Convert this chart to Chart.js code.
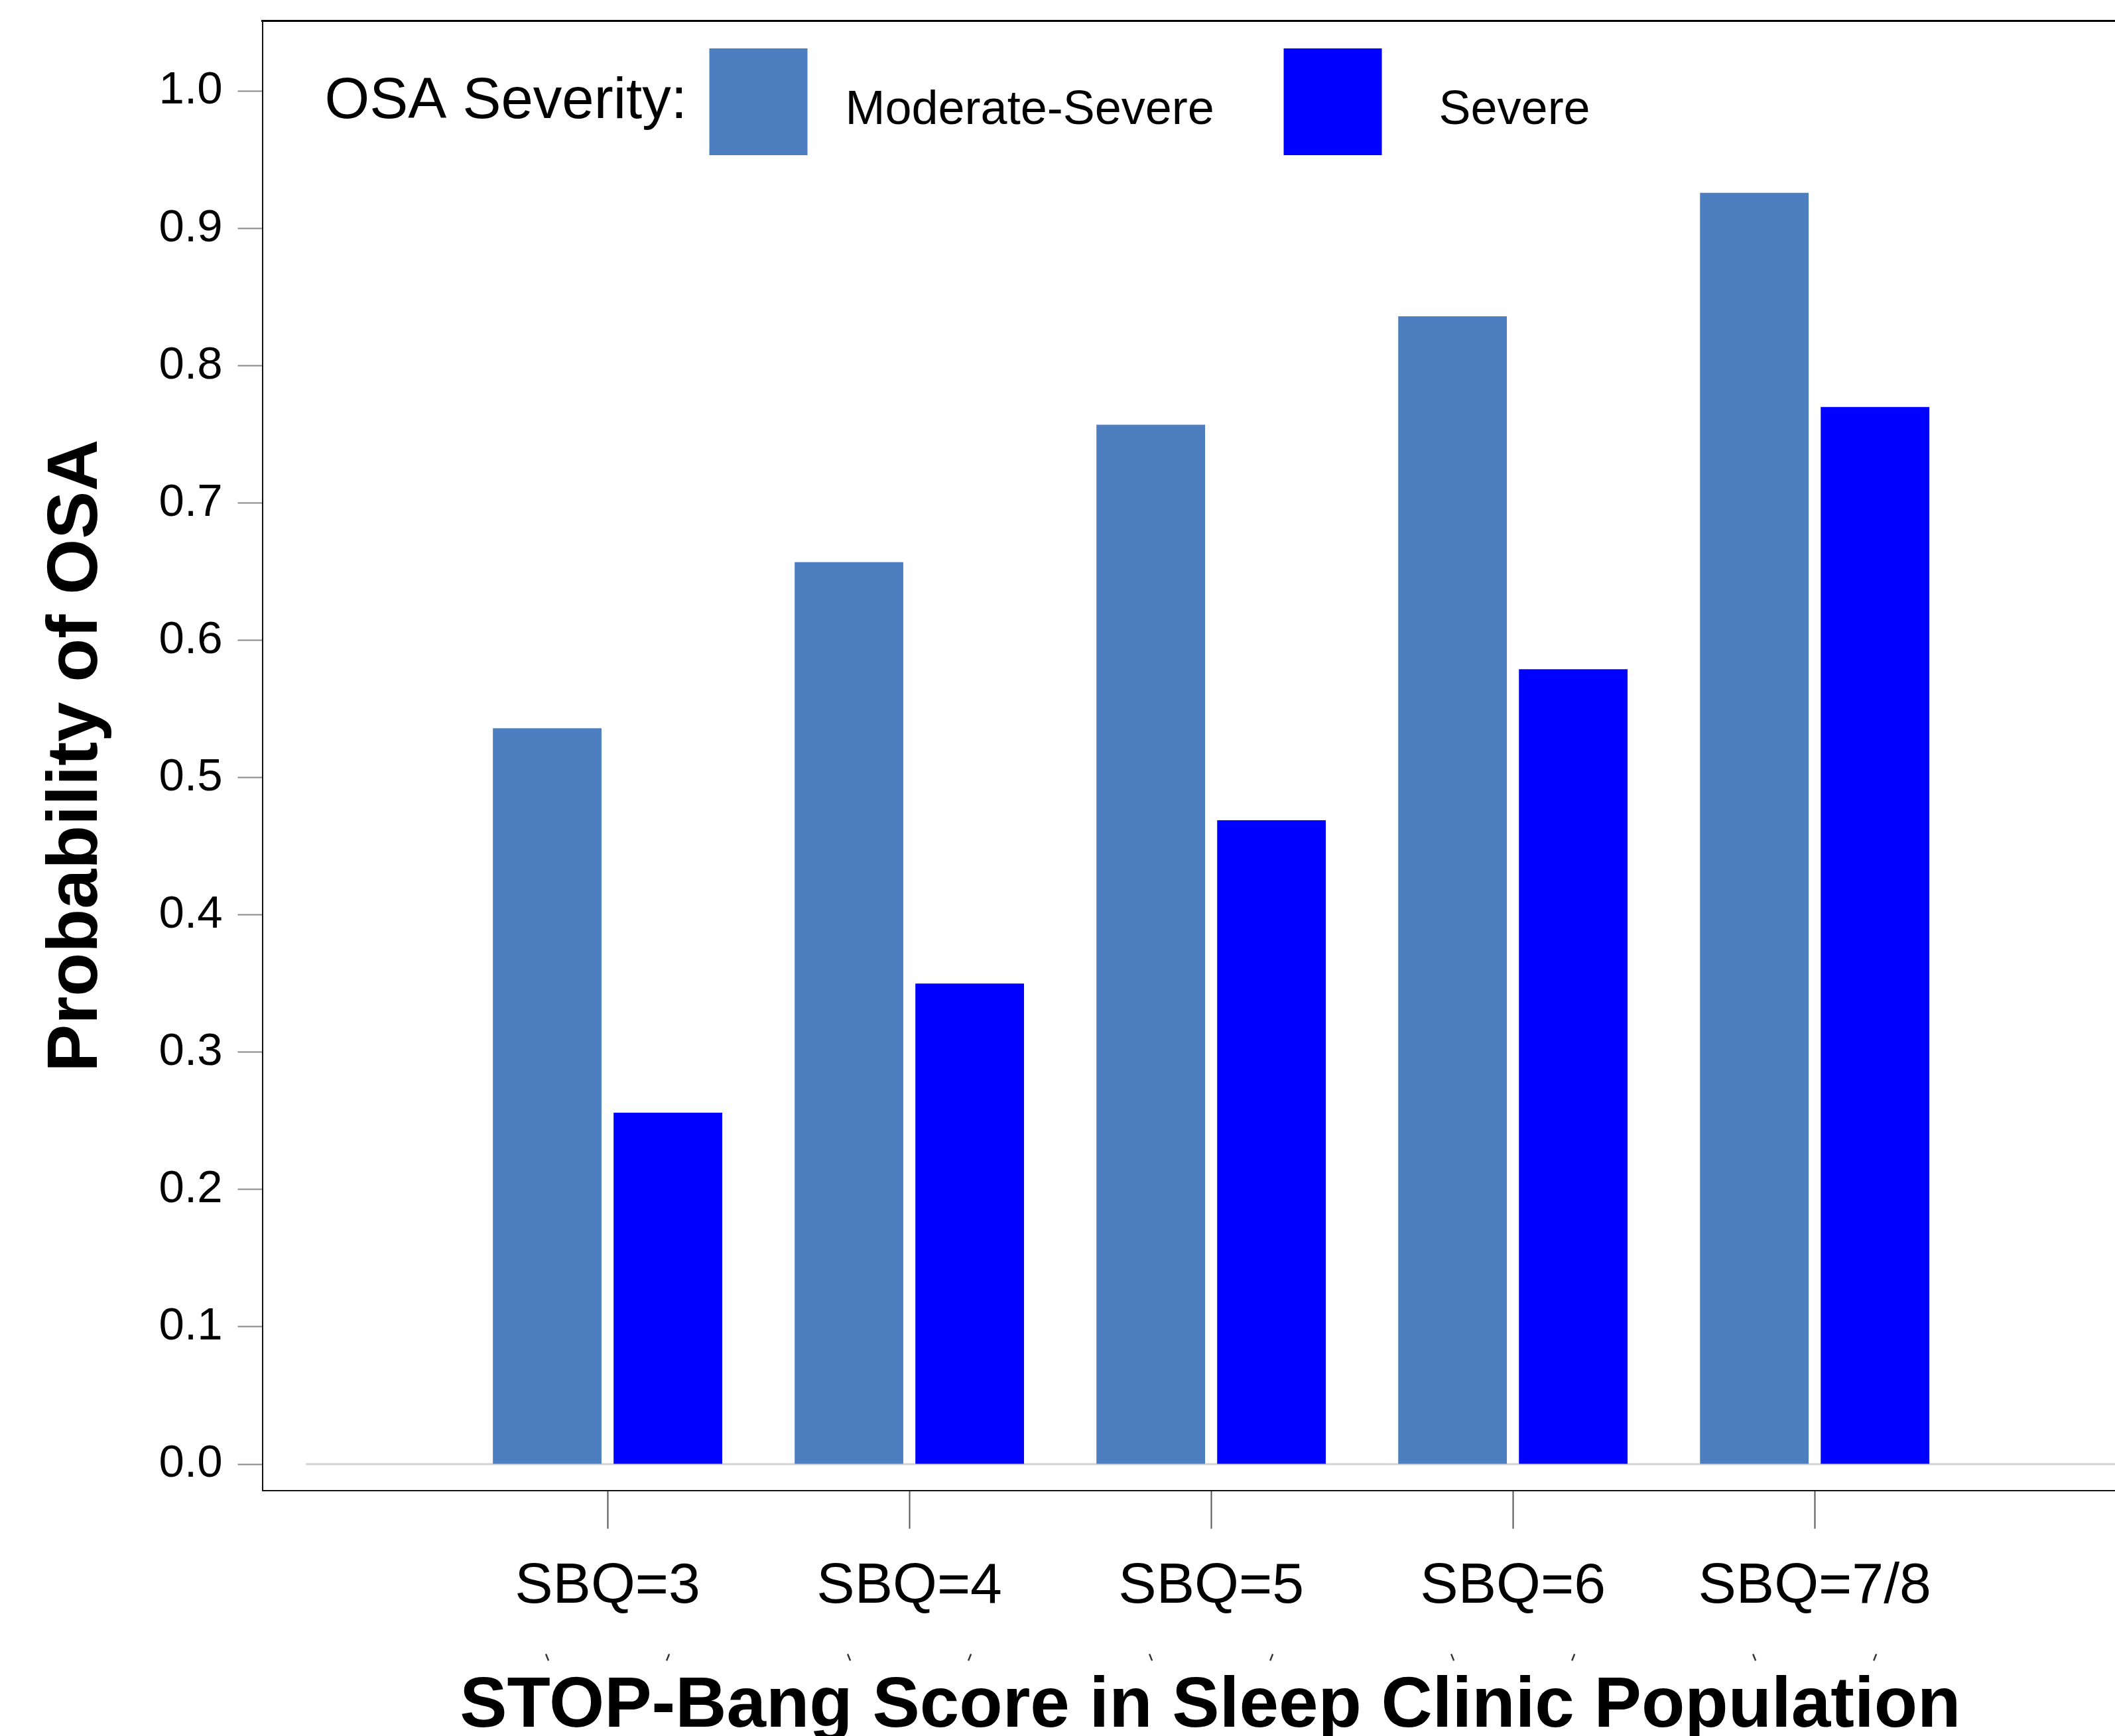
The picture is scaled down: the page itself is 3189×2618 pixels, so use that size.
<!DOCTYPE html>
<html>
<head>
<meta charset="utf-8">
<script src="https://cdn.jsdelivr.net/npm/chart.js@4.4.1/dist/chart.umd.min.js"></script>
<style>
  html, body { margin: 0; padding: 0; background: #fff; overflow: hidden; }
  #wrap { position: relative; width: 3254px; height: 2700px; }
</style>
</head>
<body>
<div id="wrap"><canvas id="osaChart"></canvas></div>
<script>
const categories = ["SBQ=3", "SBQ=4", "SBQ=5", "SBQ=6", "SBQ=7/8"];
const moderateSevere = [0.536, 0.657, 0.757, 0.836, 0.926];
const severe = [0.256, 0.350, 0.469, 0.579, 0.770];
const seriesLabels = ["Moderate-Severe", "Severe"];
const seriesColors = ["#4d7ebf", "#0000ff"];
const yTickValues = [0.0, 0.1, 0.2, 0.3, 0.4, 0.5, 0.6, 0.7, 0.8, 0.9, 1.0];
const legendTitle = "OSA Severity:";

const FONT = "'Liberation Sans', Arial, Helvetica, sans-serif";

// numeric x axis so the frame runs past the first and last group like the original
const X_MIN = -1.144, X_MAX = 5.138;
const Y_MIN = -0.0195, Y_MAX = 1.0514;

function toPoints(values) {
  return values.map((v, i) => ({ x: i, y: v }));
}

// light baseline at y = 0, starting one slot left of the first group
const zeroLine = {
  id: "zeroLine",
  beforeDatasetsDraw(chart) {
    const { ctx, chartArea } = chart;
    const x = chart.scales.x, y = chart.scales.y;
    const py = y.getPixelForValue(0);
    ctx.save();
    ctx.strokeStyle = "#d4d4d4";
    ctx.lineWidth = 3;
    ctx.beginPath();
    ctx.moveTo(x.getPixelForValue(-1), py);
    ctx.lineTo(chartArea.right, py);
    ctx.stroke();
    ctx.restore();
  },
};

// inline legend inside the frame: title, then box + label for each series
const osaLegend = {
  id: "osaLegend",
  afterDraw(chart) {
    const { ctx, chartArea } = chart;
    const left = chartArea.left, top = chartArea.top;
    ctx.save();
    ctx.fillStyle = "#000";
    ctx.textAlign = "left";
    ctx.textBaseline = "alphabetic";
    ctx.font = "87px " + FONT;
    ctx.fillText(legendTitle, left + 94, top + 147);

    const boxX = [674, 1540];
    const textX = [879, 1774];
    ctx.font = "72px " + FONT;
    chart.data.datasets.forEach((ds, i) => {
      ctx.fillStyle = ds.backgroundColor;
      ctx.fillRect(left + boxX[i], top + 42, 148, 161);
      ctx.fillStyle = "#000";
      ctx.fillText(ds.label, left + textX[i], top + 156);
    });

    // little slanted marks under the tick labels, one per bar
    ctx.strokeStyle = "#333";
    ctx.lineWidth = 2.5;
    chart.data.datasets.forEach((ds, d) => {
      const dir = d === 0 ? 1 : -1;
      chart.getDatasetMeta(d).data.forEach((bar) => {
        const y0 = chartArea.bottom + 246;
        ctx.beginPath();
        ctx.moveTo(bar.x - 2 * dir, y0);
        ctx.lineTo(bar.x + 2 * dir, y0 + 10);
        ctx.stroke();
      });
    });
    ctx.restore();
  },
};

new Chart(document.getElementById("osaChart"), {
  type: "bar",
  data: {
    datasets: [
      {
        label: seriesLabels[0],
        data: toPoints(moderateSevere),
        backgroundColor: seriesColors[0],
      },
      {
        label: seriesLabels[1],
        data: toPoints(severe),
        backgroundColor: seriesColors[1],
      },
    ],
  },
  options: {
    responsive: true,
    maintainAspectRatio: false,
    devicePixelRatio: 1,
    animation: false,
    layout: { padding: { left: 0, top: 31, right: 0, bottom: 0 } },
    plugins: {
      legend: { display: false },
      tooltip: { enabled: false },
    },
    datasets: {
      bar: { categoryPercentage: 0.8, barPercentage: 0.9 },
    },
    scales: {
      x: {
        type: "linear",
        position: "bottom",
        offset: false,
        min: X_MIN,
        max: X_MAX,
        afterBuildTicks: (axis) => {
          axis.ticks = categories.map((c, i) => ({ value: i }));
        },
        grid: {
          display: true,
          offset: false,
          drawOnChartArea: false,
          drawTicks: true,
          tickLength: 57,
          tickColor: "#555",
          tickWidth: 2,
        },
        border: { display: true, color: "#111", width: 2 },
        ticks: {
          autoSkip: false,
          maxRotation: 0,
          padding: 36,
          color: "#000",
          font: { family: FONT, size: 86 },
          callback: (value) => categories[value],
        },
        title: {
          display: true,
          text: "STOP-Bang Score in Sleep Clinic Population",
          color: "#000",
          font: { family: FONT, size: 107, weight: "bold" },
          padding: { top: 30, bottom: 61 },
        },
      },
      x2: {
        type: "linear",
        position: "top",
        display: true,
        offset: false,
        min: X_MIN,
        max: X_MAX,
        grid: { display: false, drawTicks: false },
        ticks: { display: false },
        border: { display: true, color: "#000", width: 3 },
      },
      y: {
        type: "linear",
        min: Y_MIN,
        max: Y_MAX,
        afterBuildTicks: (axis) => {
          axis.ticks = yTickValues.map((v) => ({ value: v }));
        },
        grid: {
          display: true,
          drawOnChartArea: false,
          drawTicks: true,
          tickLength: 37,
          tickColor: "#888",
          tickWidth: 2,
        },
        border: { display: true, color: "#111", width: 2 },
        ticks: {
          padding: 23,
          color: "#000",
          font: { family: FONT, size: 69, lineHeight: 0.2 },
          callback: (value) => value.toFixed(1),
        },
        title: {
          display: true,
          text: "Probability of OSA",
          color: "#000",
          font: { family: FONT, size: 108, weight: "bold" },
          padding: { top: 51, bottom: 36 },
        },
      },
    },
  },
  plugins: [zeroLine, osaLegend],
});
</script>
</body>
</html>
